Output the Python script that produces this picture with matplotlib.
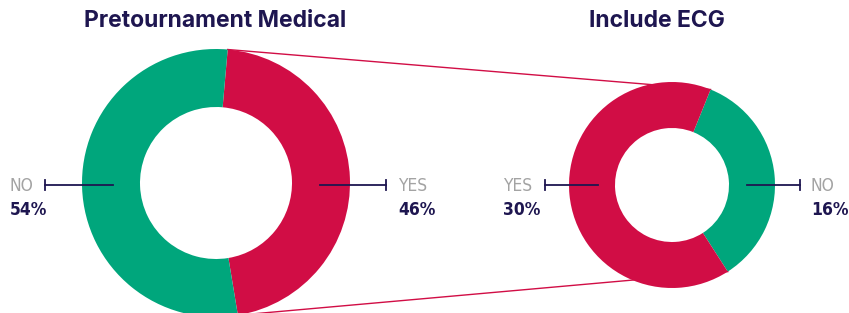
import matplotlib.pyplot as plt
import numpy as np

# data
titles = ['Pretournament Medical', 'Include ECG']
main_labels = ['YES', 'NO']
main_values = [46, 54]
ecg_labels = ['NO', 'YES']
ecg_values = [16, 30]

red = '#D10D45'
green = '#00A67C'
navy = '#1E1650'
grey = '#A3A3A3'

W, H = 849, 313
fig = plt.figure(figsize=(W / 100, H / 100), dpi=100)
ax = fig.add_axes([0, 0, 1, 1])

# left donut (pixel coordinates, y up)
c1 = (216, H - 183)
r1, w1 = 134, 58
start1 = 85
ax.pie(main_values, colors=[red, green], startangle=start1, counterclock=False,
       center=c1, radius=r1, wedgeprops=dict(width=w1, linewidth=0),
       frame=True)

# right donut
c2 = (672, H - 185)
r2, w2 = 103, 46
start2 = 68
ax.pie(ecg_values, colors=[green, red], startangle=start2, counterclock=False,
       center=c2, radius=r2, wedgeprops=dict(width=w2, linewidth=0),
       frame=True)

# connecting lines, under the donuts
a1 = np.deg2rad([start1, start1 - 360 * main_values[0] / sum(main_values)])
a2 = np.deg2rad([start2, start2 - 360 * ecg_values[0] / sum(ecg_values)])
for p, q in zip(a1, a2):
    ax.plot([c1[0] + r1 * np.cos(p), c2[0] + r2 * np.cos(q)],
            [c1[1] + r1 * np.sin(p), c2[1] + r2 * np.sin(q)],
            color=red, lw=1, zorder=0.5)

cond = ['DejaVu Sans Condensed', 'DejaVu Sans']

# leader lines with labels
def leader(x0, x1, y, tx, label, value):
    ax.plot([x0, x1], [y, y], color=navy, lw=1.3, zorder=5)
    ax.plot([x1, x1], [y - 5, y + 5], color=navy, lw=1.3, zorder=5)
    ax.text(tx, y - 1, label, color=grey, fontsize=12.5, ha='left', va='center',
            family=cond, fontstretch='condensed')
    ax.text(tx, y - 25, f'{value}%', color=navy, fontsize=12.5, ha='left',
            va='center', fontweight='bold', family=cond,
            fontstretch='condensed')

yl = H - 185
leader(113, 45, yl, 10, main_labels[1], main_values[1])
leader(320, 386, yl, 398, main_labels[0], main_values[0])
leader(598, 545, yl, 503, ecg_labels[1], ecg_values[1])
leader(747, 800, yl, 811, ecg_labels[0], ecg_values[0])

ax.text(215, H - 21, titles[0], color=navy, fontsize=16.5, fontweight='bold',
        ha='center', va='center', family=['Inter', 'DejaVu Sans'])
ax.text(657, H - 21, titles[1], color=navy, fontsize=16.5, fontweight='bold',
        ha='center', va='center', family=['Inter', 'DejaVu Sans'])

ax.set_xlim(0, W)
ax.set_ylim(0, H)
ax.set_aspect('auto')
ax.axis('off')

fig.savefig('out.png', dpi=100)
